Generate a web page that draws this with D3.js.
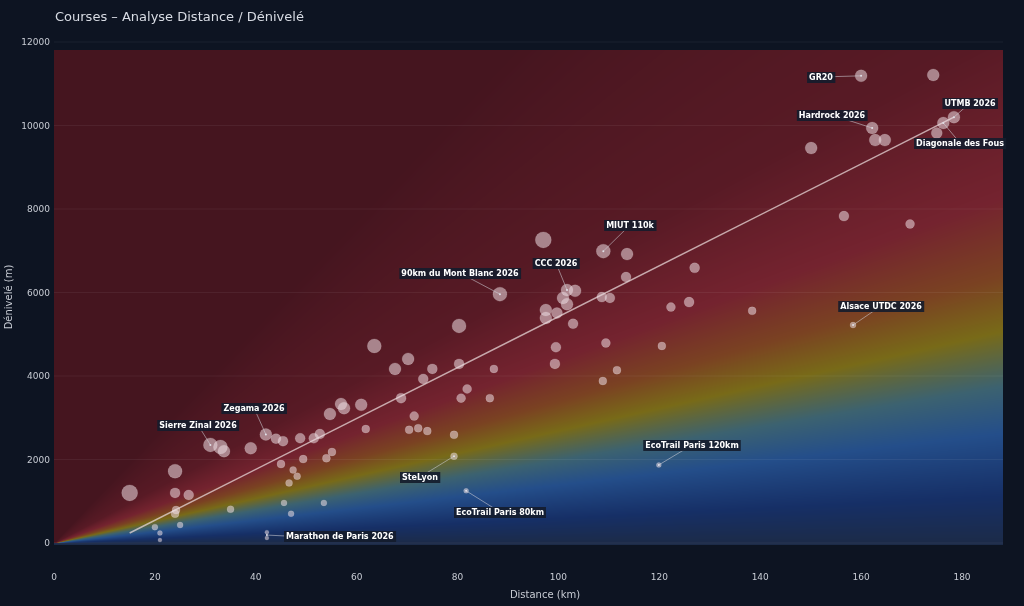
<!DOCTYPE html>
<html><head><meta charset="utf-8">
<script src="https://cdn.jsdelivr.net/npm/d3@7"></script>
<style>
body{margin:0;background:#0d1422;font-family:"DejaVu Sans",sans-serif;}
#wrap{position:relative;width:1024px;height:606px;}
canvas,svg{position:absolute;left:0;top:0;}
</style></head><body>
<div id="wrap"><canvas id="bg" width="1024" height="606"></canvas><svg id="chart" width="1024" height="606"></svg></div>
<script>
// race data: distance (km), elevation gain (m), marker radius
const distances = [15,24,24,26.7,24.2,24,20,21,21,25,35,31,33,33.7,39,42,44,45.4,48.8,51.5,52.7,45,49.4,47.4,48.2,46.6,45.6,47,53.5,42.2,42.2,54,55.1,54.7,56.9,57.5,60.9,61.8,63.5,67.6,70.2,75,73.2,68.8,71.4,70.4,72.2,74,79.3,79.3,80.3,80.3,81.9,80.7,86.4,87.2,88.4,81.7,97,97.5,97.5,99.7,100.9,101.7,101.7,103.3,102.9,99.5,99.3,108.9,113.6,113.4,108.6,110.2,109.4,111.6,108.8,120.5,122.3,125.9,127,138.4,119.9,158.4,150.1,156.6,169.7,160,174.3,162.2,162.8,164.7,175,176.3,178.4];
const gains = [1200,1720,1200,1150,790,700,380,240,70,430,810,2350,2300,2200,2270,2600,2500,2440,2510,2510,2610,1890,2010,1750,1600,1440,960,700,960,260,120,2030,2180,3090,3330,3230,3310,2730,4720,4170,4410,4170,3930,3470,3040,2710,2750,2680,2590,2080,5200,4290,3690,3470,3470,4170,5960,1250,7260,5580,5390,5510,5870,6060,5720,6040,5250,4690,4290,6990,6920,6370,5890,5870,4790,4140,3880,4720,5650,5770,6590,5560,1870,5220,9460,7830,7640,11190,11210,9940,9650,9650,9820,10060,10200];
const radii = [8,7,5,5,4,4,3,2.5,2,3,3.5,7,7,6,6,6,5,5,5,5,5,4,4,3.5,3.5,3.5,3,3,3,2,2,4,4,6,6,6,6,4,7,6,6,5,5,5,4.5,4,4,4,4,3.5,7,5,4.5,4.5,4,4,7,2.5,8,6,6,5.5,6,6,6,6,5,5,5,7,6,5,5,5,4.5,4,4,4,4.5,5,5,4,2.5,3,6,5,4.5,6,6,6,6,6,5.5,6,6];

const labelNames = ["Sierre Zinal 2026","Zegama 2026","Marathon de Paris 2026","SteLyon","EcoTrail Paris 80km","90km du Mont Blanc 2026","CCC 2026","MIUT 110k","EcoTrail Paris 120km","Alsace UTDC 2026","GR20","Hardrock 2026","UTMB 2026","Diagonale des Fous"];
const labelPointX = [31,42,42.2,79.3,81.7,88.4,101.7,108.9,119.9,158.4,160,162.2,178.4,176.3];
const labelPointY = [2350,2600,190,2080,1250,5960,6060,6990,1870,5220,11190,9940,10200,10060];
const labelBoxX = [198,254,286,420,500,460,556,630,692,881,821,832,970,960];
const labelBoxY = [425,408,536,477,512,273,263,225,445,306,77,115,103,143];

const trendX = [15,178.4];
const trendY = [240,10200];

const xTicks = d3.range(0,181,20);
const yTicks = d3.range(0,12001,2000);

const pL=54, pR=1003, pT=50, pB=545;
const x = d3.scaleLinear().domain([0,180]).range([54,962]);
const y = d3.scaleLinear().domain([0,12000]).range([543,42]);

// background gradient by ratio D+/km
const ratioStops = [0,6,14,20,27,34,44,65,130];
const ratioColors = ["#1c2b48","#162f66","#244e8a","#3c6270","#786a18","#7a4222","#74232f","#581a25","#45151f"];
const col = d3.scaleLinear().domain(ratioStops).range(ratioColors).interpolate(d3.interpolateRgb).clamp(true);
const ctx = document.getElementById("bg").getContext("2d");
const img = ctx.createImageData(pR-pL, pB-pT);
for(let py=pT; py<pB; py++){
  for(let px=pL; px<pR; px++){
    const dx = Math.max(x.invert(px),0.3), dy = y.invert(py);
    const c = d3.rgb(col(dy<0?0:dy/dx));
    const i = ((py-pT)*(pR-pL)+(px-pL))*4;
    img.data[i]=c.r; img.data[i+1]=c.g; img.data[i+2]=c.b; img.data[i+3]=255;
  }
}
ctx.putImageData(img,pL,pT);

const svg = d3.select("#chart");
svg.append("text").attr("x",55).attr("y",21).attr("fill","#d8dce4").attr("font-size",13).text("Courses – Analyse Distance / Dénivelé");

svg.append("g").selectAll("line").data(yTicks).join("line")
  .attr("x1",pL).attr("x2",pR).attr("y1",d=>y(d)).attr("y2",d=>y(d))
  .attr("stroke","#ffffff").attr("stroke-opacity",0.06);

svg.append("g").selectAll("text").data(xTicks).join("text")
  .attr("x",d=>x(d)).attr("y",580).attr("text-anchor","middle").attr("fill","#c8ccd4").attr("font-size",9).text(d=>d);
svg.append("g").selectAll("text").data(yTicks).join("text")
  .attr("x",50).attr("y",d=>y(d)+3).attr("text-anchor","end").attr("fill","#c8ccd4").attr("font-size",9).text(d=>d);
svg.append("text").attr("x",545).attr("y",598).attr("text-anchor","middle").attr("fill","#c8ccd4").attr("font-size",10).text("Distance (km)");
svg.append("text").attr("transform","translate(12,297) rotate(-90)").attr("text-anchor","middle").attr("fill","#c8ccd4").attr("font-size",10).text("Dénivelé (m)");

svg.append("line").attr("x1",x(trendX[0])).attr("y1",y(trendY[0])).attr("x2",x(trendX[1])).attr("y2",y(trendY[1]))
  .attr("stroke","#e8d8d8").attr("stroke-opacity",0.75).attr("stroke-width",1.5);

svg.append("g").selectAll("circle").data(distances).join("circle")
  .attr("cx",d=>x(d)).attr("cy",(d,i)=>y(gains[i])).attr("r",(d,i)=>radii[i])
  .attr("fill","#ecdde2").attr("fill-opacity",0.55).attr("stroke","#ffffff").attr("stroke-opacity",0.25).attr("stroke-width",0.5);

const lg = svg.append("g");
labelNames.forEach((n,i)=>{
  lg.append("line").attr("x1",labelBoxX[i]).attr("y1",labelBoxY[i]).attr("x2",x(labelPointX[i])).attr("y2",y(labelPointY[i]))
    .attr("stroke","#d0d0d8").attr("stroke-opacity",0.7).attr("stroke-width",0.8);
  lg.append("circle").attr("cx",x(labelPointX[i])).attr("cy",y(labelPointY[i])).attr("r",1).attr("fill","#e0e0e8");
});
labelNames.forEach((n,i)=>{
  const t = lg.append("text").attr("x",labelBoxX[i]).attr("y",labelBoxY[i]+3).attr("text-anchor", i==2?"start":"middle")
    .attr("fill","#ffffff").attr("font-size",8).attr("font-weight","bold").text(n);
  const b = t.node().getBBox();
  lg.append("rect").attr("x",b.x-2).attr("y",b.y-1).attr("width",b.width+4).attr("height",b.height+2)
    .attr("fill","#141c2c").attr("fill-opacity",0.9);
  t.raise();
});
</script></body></html>
